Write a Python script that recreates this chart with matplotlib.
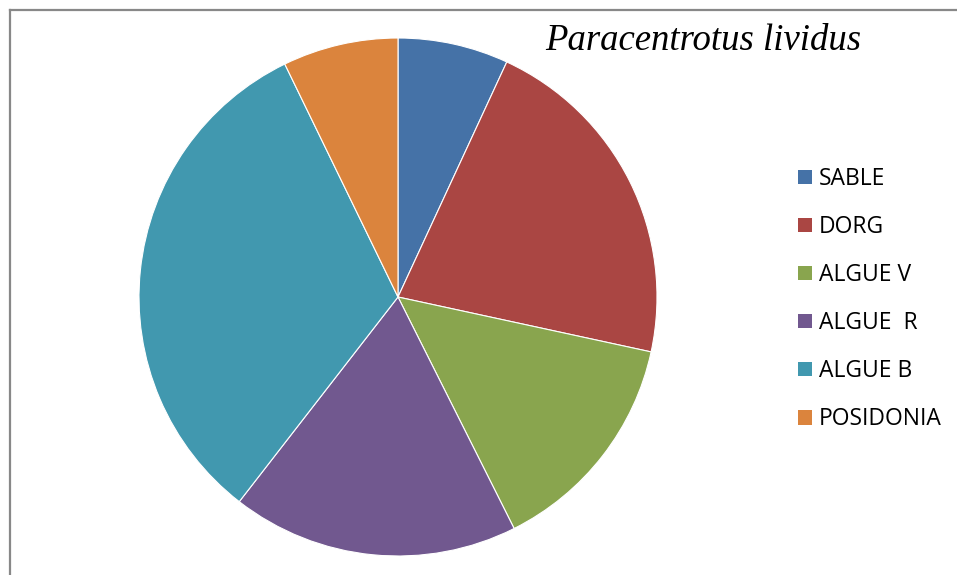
import matplotlib.pyplot as plt
from matplotlib.lines import Line2D

categories = ["SABLE", "DORG", "ALGUE V", "ALGUE  R", "ALGUE B", "POSIDONIA"]
shares = [6.9, 21.5, 14.2, 17.9, 32.3, 7.2]
colors = ["#4572A7", "#AA4643", "#89A54E", "#71588F", "#4198AF", "#DB843D"]
title = "Paracentrotus lividus"

W, H = 957, 575
fig = plt.figure(figsize=(W / 100, H / 100), dpi=100)
fig.patch.set_facecolor("white")

# chart frame (only top and left edges visible in the crop)
fig.add_artist(Line2D([10 / W, 10 / W], [0, 1 - 10 / H], color="#888888", lw=1.6))
fig.add_artist(Line2D([10 / W, 1], [1 - 10 / H, 1 - 10 / H], color="#888888", lw=1.6))

# pie: centre (398, 297), radius 259 px
cx, cy, r = 398, 297, 259
ax = fig.add_axes([(cx - r) / W, (H - cy - r) / H, 2 * r / W, 2 * r / H])
wedges, _ = ax.pie(
    shares,
    colors=colors,
    startangle=90,
    counterclock=False,
    radius=1,
    wedgeprops=dict(edgecolor="white", linewidth=0.8),
)
ax.set_xlim(-1, 1)
ax.set_ylim(-1, 1)
ax.set_aspect("equal")
ax.axis("off")

fig.text(703 / W, 1 - 50 / H, title, fontsize=26.5, style="italic",
         family="Liberation Serif", ha="center", va="baseline")

leg = fig.legend(
    wedges,
    categories,
    loc="upper left",
    bbox_to_anchor=(798 / W, 1 - 167 / H),
    frameon=False,
    prop={"family": ["Open Sans", "DejaVu Sans"], "size": 16.5},
    handlelength=0.6,
    handleheight=0.6,
    handletextpad=0.3,
    labelspacing=1.05,
    borderpad=0,
    borderaxespad=0,
)
for h in leg.legend_handles:
    h.set_linewidth(0)

fig.savefig("out.png", dpi=100)
